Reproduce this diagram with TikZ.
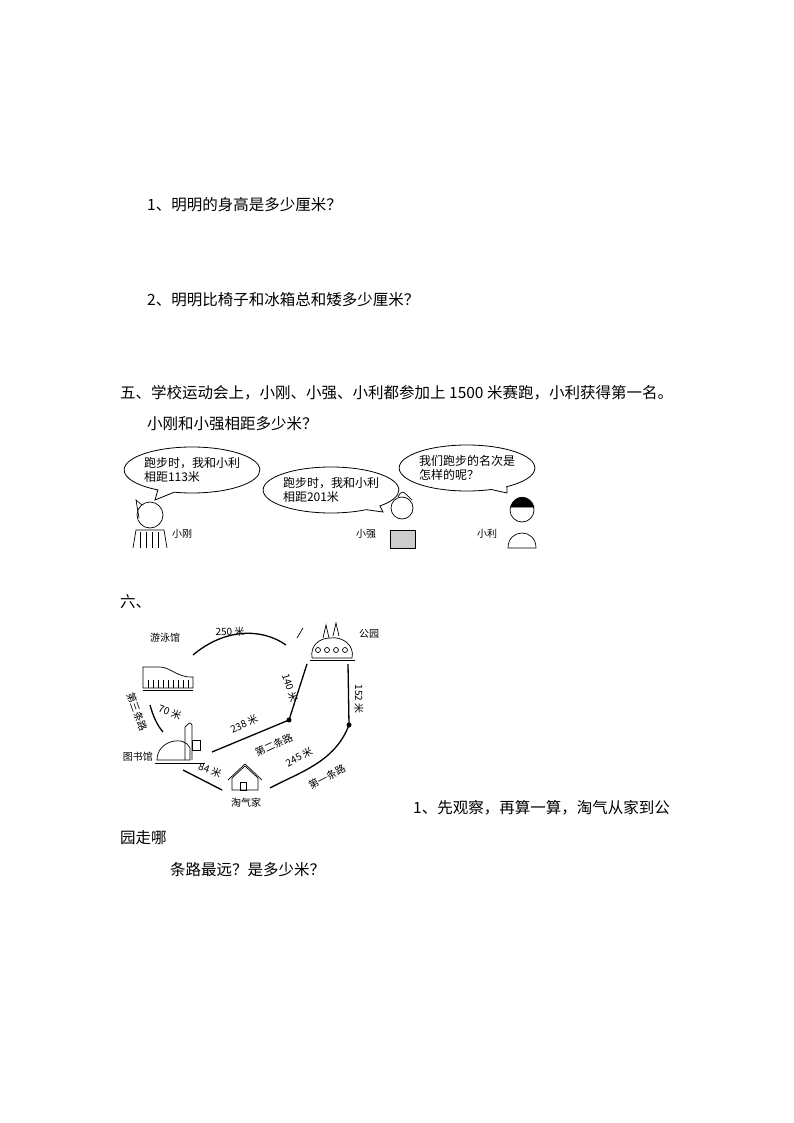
\documentclass[tikz,border=0pt]{standalone}
\usepackage{fontspec}
\newfontfamily\cjk{Noto Sans CJK SC}
\usetikzlibrary{shapes.callouts}
\begin{document}
\begin{tikzpicture}[x=1pt,y=-1pt,
  body/.style={font=\cjk\fontsize{15.5}{18}\selectfont,anchor=west,inner sep=0},
  small/.style={font=\cjk\fontsize{10}{12}\selectfont,inner sep=0},
  bubble/.style={ellipse callout,draw,line width=0.8pt,font=\cjk\fontsize{12}{14}\selectfont,align=left,inner sep=0pt},
  road/.style={line width=1.3pt},
  ic/.style={line width=0.7pt}]
\useasboundingbox (0,0) rectangle (794,1123);
\node[body] (q1) at (147,205) {1、明明的身高是多少厘米？};
\node[body] (q2) at (147,300) {2、明明比椅子和冰箱总和矮多少厘米？};
\node[body] (q5) at (120,393) {五、学校运动会上，小刚、小强、小利都参加上 1500 米赛跑，小利获得第一名。};
\node[body] (q5b) at (147,424) {小刚和小强相距多少米？};
% bubbles
\node[bubble,minimum width=120pt,minimum height=46pt,callout absolute pointer={(155,500)}] (b1) at (192,470) {跑步时，我和小利\\相距113米};
\node[bubble,minimum width=122pt,minimum height=46pt,callout absolute pointer={(383,512)}] (b2) at (331,490) {跑步时，我和小利\\相距201米};
\node[bubble,minimum width=124pt,minimum height=46pt,callout absolute pointer={(507,493)}] (b3) at (467,468) {我们跑步的名次是\\怎样的呢？};
% kids
\begin{scope}[ic]
\draw (150,515) circle (13); \draw (133,548) -- (136,530) -- (164,530) -- (167,548);
\foreach \x in {140,146,152,158} \draw (\x,532) -- (\x,548);
\draw (139,518) -- (136,500) -- (142,505);
\draw (402,508) circle (11); \draw[fill=black!20] (390,530) rectangle (415,548);
\draw (398,497) .. controls (402,490) .. (412,500);
\draw (522,510) circle (12); \draw[fill=black] (511,507) .. controls (514,494) and (530,494) .. (534,507) -- cycle;
\draw (508,548) .. controls (508,528) and (536,528) .. (536,548) -- cycle;
\end{scope}
\node[small] (n1) at (182,534) {小刚};
\node[small] (n2) at (366,534) {小强};
\node[small] (n3) at (487,534) {小利};
\node[body] (q6) at (120,602) {六、};
% map
\begin{scope}
\clip (118,615) rectangle (400,815);
\coordinate (A) at (289,720); \coordinate (B) at (349,725);
\draw[road] (193,655) .. controls (225,628) and (262,628) .. (286,645);
\draw[road] (150,705) .. controls (153,716) and (157,725) .. (163,732);
\draw[road] (183,770) -- (222,790);
\draw[road] (212,752) -- (A) -- (307,664);
\draw[road] (270,788) .. controls (300,772) and (335,762) .. (B) -- (348,664);
\fill (A) circle (2.5); \fill (B) circle (2.5);
% pool icon
\draw[ic] (143,667) -- (160,667) .. controls (170,667) and (178,678) .. (193,677) -- (193,688) -- (143,688) -- cycle;
\foreach \x in {148,153,158,163,168,173,178,183,188} \draw[ic] (\x,680) -- (\x,688);
\draw[ic] (143,690) -- (193,690);
% park icon
\draw[ic] (310,660) -- (355,660);
\draw[ic] (312,658) .. controls (310,645) and (320,638) .. (330,638) .. controls (342,636) and (355,645) .. (352,658) -- cycle;
\foreach \x in {318,327,336,345} \draw[ic] (\x,650) circle (2.5);
\draw[ic] (323,638) -- (326,625) -- (329,638); \draw[ic] (333,636) -- (336,623) -- (339,636);
\draw[ic] (297,638) -- (303,628);
% library icon
\draw[ic] (157,760) .. controls (157,740) and (185,735) .. (190,748) -- (190,760) -- cycle;
\draw[ic] (185,760) -- (185,727) .. controls (190,722) .. (192,725) -- (192,760);
\draw[ic] (155,763) -- (205,763); \draw[ic] (192,740) rectangle (200,750);
% home icon
\draw[ic] (232,790) -- (232,778) -- (245,766) -- (258,778) -- (258,790) -- cycle;
\draw[ic] (228,780) -- (245,764) -- (262,780); \draw[ic] (240,782) rectangle (246,790);
% labels
\node[small] (l1) at (165,638) {游泳馆};
\node[small] (l2) at (230,632) {250 米};
\node[small] (l3) at (369,634) {公园};
\node[small,anchor=east] (l4) at (153,757) {图书馆};
\node[small] (l5) at (246,803) {淘气家};
\node[small,rotate=-72] (l6) at (290,688) {140 米};
\node[small,rotate=-90] (l7) at (359,699) {152 米};
\node[small,rotate=25] (l8) at (244,724) {238 米};
\node[small,rotate=25] (l9) at (274,745) {第二条路};
\node[small,rotate=28] (l10) at (299,757) {245 米};
\node[small,rotate=28] (l11) at (327,777) {第一条路};
\node[small,rotate=-20] (l12) at (210,770) {84 米};
\node[small,rotate=-20] (l13) at (170,712) {70 米};
\node[small,rotate=-70] (l14) at (137,712) {第三条路};
\end{scope}
\node[body] (q7) at (413,808) {1、先观察，再算一算，淘气从家到公};
\node[body] (q7b) at (120,838) {园走哪};
\node[body] (q7c) at (170,870) {条路最远？是多少米？};
\end{tikzpicture}
\end{document}
